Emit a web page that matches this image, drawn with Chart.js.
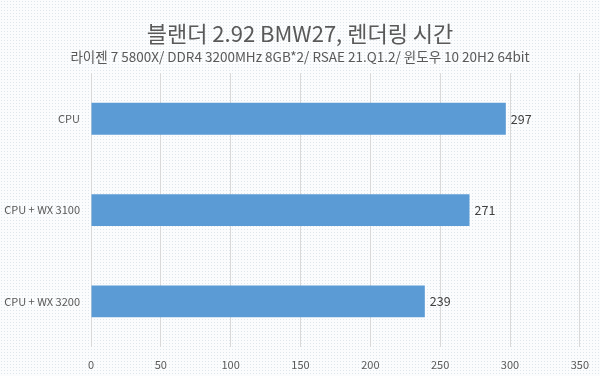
<!DOCTYPE html>
<html>
<head>
<meta charset="utf-8">
<script src="https://cdn.jsdelivr.net/npm/chart.js@4"></script>
<style>
  html, body { margin: 0; padding: 0; }
  body {
    background-color: #fbfcfd;
    background-image: radial-gradient(#dfe6eb 0.7px, transparent 0.8px);
    background-size: 3px 3px;
  }
  #wrap { width: 600px; height: 376px; position: relative; }
</style>
</head>
<body>
<div id="wrap"><canvas id="myChart"></canvas></div>
<script>
var categories = ['CPU', 'CPU + WX 3100', 'CPU + WX 3200'];
var renderTimes = [297, 271, 239];
var xTicks = [0, 50, 100, 150, 200, 250, 300, 350];

var titleText = '블랜더 2.92 BMW27, 렌더링 시간';
var subtitleText = '라이젠 7 5800X/ DDR4 3200MHz 8GB*2/ RSAE 21.Q1.2/ 윈도우 10 20H2 64bit';

var fontFamily = '"Noto Sans CJK KR", "Noto Sans", sans-serif';

// value labels at the end of each bar
var barValues = {
  id: 'barValues',
  afterDatasetsDraw: function(chart) {
    var ctx = chart.ctx;
    var meta = chart.getDatasetMeta(0);
    ctx.save();
    ctx.font = '12.5px ' + fontFamily;
    ctx.fillStyle = '#404040';
    ctx.textAlign = 'left';
    ctx.textBaseline = 'middle';
    meta.data.forEach(function(bar, i) {
      ctx.fillText(chart.data.datasets[0].data[i], bar.x + 5, bar.y);
    });
    ctx.restore();
  }
};

var ctx = document.getElementById('myChart').getContext('2d');
var chart = new Chart(ctx, {
  type: 'bar',
  data: {
    labels: categories,
    datasets: [{
      label: '렌더링 시간',
      data: renderTimes,
      backgroundColor: '#5b9bd5',
      borderWidth: 0,
      barPercentage: 0.7,
      categoryPercentage: 0.5
    }]
  },
  options: {
    indexAxis: 'y',
    responsive: true,
    maintainAspectRatio: false,
    animation: false,
    layout: { padding: 0 },
    plugins: {
      legend: { display: false },
      tooltip: { enabled: false },
      title: {
        display: true,
        text: titleText,
        color: '#595959',
        font: { family: fontFamily, size: 22, weight: 'normal', lineHeight: 1 },
        padding: { top: 23, bottom: 4 }
      },
      subtitle: {
        display: true,
        text: subtitleText,
        color: '#595959',
        font: { family: fontFamily, size: 13.5, weight: 'normal', lineHeight: 1.2 },
        padding: { top: 0, bottom: 8 }
      }
    },
    scales: {
      x: {
        min: 0,
        max: 350,
        afterBuildTicks: function(scale) {
          scale.ticks = xTicks.map(function(v) { return { value: v }; });
        },
        afterFit: function(scale) { scale.height = 29; },
        grid: { color: '#d9d9d9', drawTicks: false },
        border: { display: false },
        ticks: {
          padding: 11,
          color: '#595959',
          font: { family: fontFamily, size: 11 }
        }
      },
      y: {
        afterFit: function(scale) { scale.width = 91; },
        grid: { display: false, drawTicks: false },
        border: { display: false },
        ticks: {
          padding: 11,
          color: '#595959',
          font: { family: fontFamily, size: 11 }
        }
      },
      // empty spacer on the right so the plot ends where the reference does
      yRight: {
        type: 'linear',
        position: 'right',
        afterFit: function(scale) { scale.width = 18; },
        grid: { display: false, drawTicks: false },
        border: { display: false },
        ticks: { display: false }
      }
    }
  },
  plugins: [barValues]
});
</script>
</body>
</html>
